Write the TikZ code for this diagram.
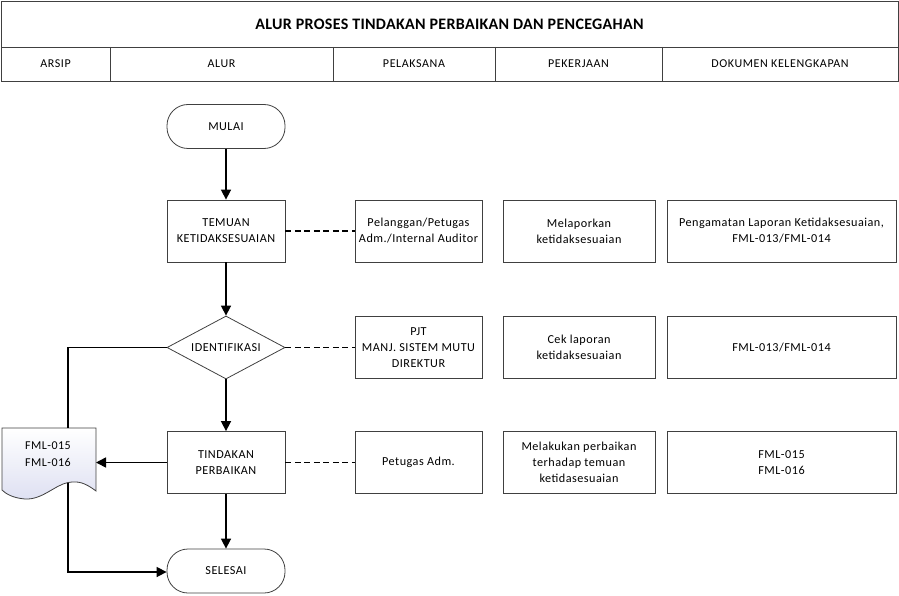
\documentclass[tikz,border=0pt]{standalone}
\usepackage{fontspec}
\setmainfont{Carlito}
\newfontfamily\bodyfont[LetterSpace=4]{Carlito}
\newfontfamily\hdrfont[LetterSpace=5]{Carlito}
\newfontfamily\titlefont[LetterSpace=2]{Carlito}
\usetikzlibrary{shapes.geometric,arrows.meta}
\definecolor{edge}{RGB}{64,64,64}
\definecolor{docblue}{RGB}{222,224,242}
\begin{document}
\begin{tikzpicture}[x=1pt,y=-1pt,
  hdr/.style={draw=edge,line width=0.8pt},
  hdrtext/.style={font=\hdrfont\fontsize{12}{14}\selectfont},
  box/.style={draw=edge,line width=0.8pt,rectangle,align=center,inner sep=0pt,font=\bodyfont\fontsize{12.2}{16}\selectfont},
  flowbox/.style={box,minimum width=118pt,minimum height=62pt},
  term/.style={box,minimum width=118pt,minimum height=44pt,rounded corners=21pt},
  decision/.style={draw=edge,line width=0.8pt,diamond,aspect=1.87,inner sep=0pt,minimum width=118pt,minimum height=63pt,font=\bodyfont\fontsize{12.2}{14}\selectfont},
  pbox/.style={box,minimum width=127pt,minimum height=62pt},
  kbox/.style={box,minimum width=152pt,minimum height=62pt},
  dbox/.style={box,minimum width=229pt,minimum height=62pt},
  flow/.style={line width=1.6pt,-{Triangle[length=10pt,width=10pt]}},
  plainline/.style={line width=1.6pt},
  dashline/.style={line width=1.5pt,dash pattern=on 6pt off 3.5pt}
]
\useasboundingbox (0,0) rectangle (899,596);
% header
\draw[hdr] (1,1) rectangle (898,81);
\draw[hdr] (1,47) -- (898,47);
\foreach \x in {110,333,495,662} \draw[hdr] (\x,47) -- (\x,81);
\node[font=\titlefont\bfseries\fontsize{16}{18}\selectfont] (title) at (449.5,24) {ALUR PROSES TINDAKAN PERBAIKAN DAN PENCEGAHAN};
\node[hdrtext] (h1) at (55.5,64) {ARSIP};
\node[hdrtext] (h2) at (221.5,64) {ALUR};
\node[hdrtext] (h3) at (414,64) {PELAKSANA};
\node[hdrtext] (h4) at (578.5,64) {PEKERJAAN};
\node[hdrtext] (h5) at (780,64) {DOKUMEN KELENGKAPAN};
% flow
\node[term] (mulai) at (226,126.5) {MULAI};
\node[flowbox] (temuan) at (226,231) {TEMUAN\\KETIDAKSESUAIAN};
\node[decision] (ident) at (226,347.5) {IDENTIFIKASI};
\node[flowbox] (tindakan) at (226,462.5) {TINDAKAN\\PERBAIKAN};
\node[term] (selesai) at (226,571) {SELESAI};
% pelaksana
\node[pbox] (p1) at (418.5,231) {Pelanggan/Petugas\\Adm./Internal Auditor};
\node[pbox] (p2) at (418.5,347.5) {PJT\\MANJ. SISTEM MUTU\\DIREKTUR};
\node[pbox] (p3) at (418.5,462.5) {Petugas Adm.};
% pekerjaan
\node[kbox] (k1) at (579,231) {Melaporkan\\ketidaksesuaian};
\node[kbox] (k2) at (579,347.5) {Cek laporan\\ketidaksesuaian};
\node[kbox] (k3) at (579,462.5) {Melakukan perbaikan\\terhadap temuan\\ketidasesuaian};
% dokumen
\node[dbox] (d1) at (781.5,231) {Pengamatan Laporan Ketidaksesuaian,\\FML-013/FML-014};
\node[dbox] (d2) at (781.5,347.5) {FML-013/FML-014};
\node[dbox] (d3) at (781.5,462.5) {FML-015\\FML-016};
% arsip document
\shade[top color=white,bottom color=docblue,draw=edge,line width=0.8pt]
  (2,428) -- (96,428) -- (96,491)
  .. controls (84,482) and (78,481) .. (68,482.5)
  .. controls (55,485) and (42,500) .. (25,499)
  .. controls (13,498) and (6,494) .. (2,490) -- cycle;
\node[font=\bodyfont\fontsize{12}{17}\selectfont,align=center] (arsip) at (48,454.5) {FML-015\\FML-016};
\coordinate (doctop) at (68,428);
\coordinate (docbot) at (68,482.5);
\coordinate (docright) at (96,462.5);
\coordinate (lbend) at (68,347.5);
\coordinate (lbend2) at (68,572);
% connectors
\draw[flow] (mulai) -- (temuan);
\draw[flow] (temuan) -- (ident);
\draw[flow] (ident) -- (tindakan);
\draw[flow] (tindakan) -- (selesai);
\draw[plainline] (ident.west) -- (lbend) -- (doctop);
\draw[flow] (tindakan.west) -- (docright);
\draw[flow] (docbot) -- (lbend2) -- (selesai.west |- lbend2);
\draw[dashline] (temuan) -- (p1);
\draw[dashline] (ident) -- (p2);
\draw[dashline] (tindakan) -- (p3);
\end{tikzpicture}
\end{document}
